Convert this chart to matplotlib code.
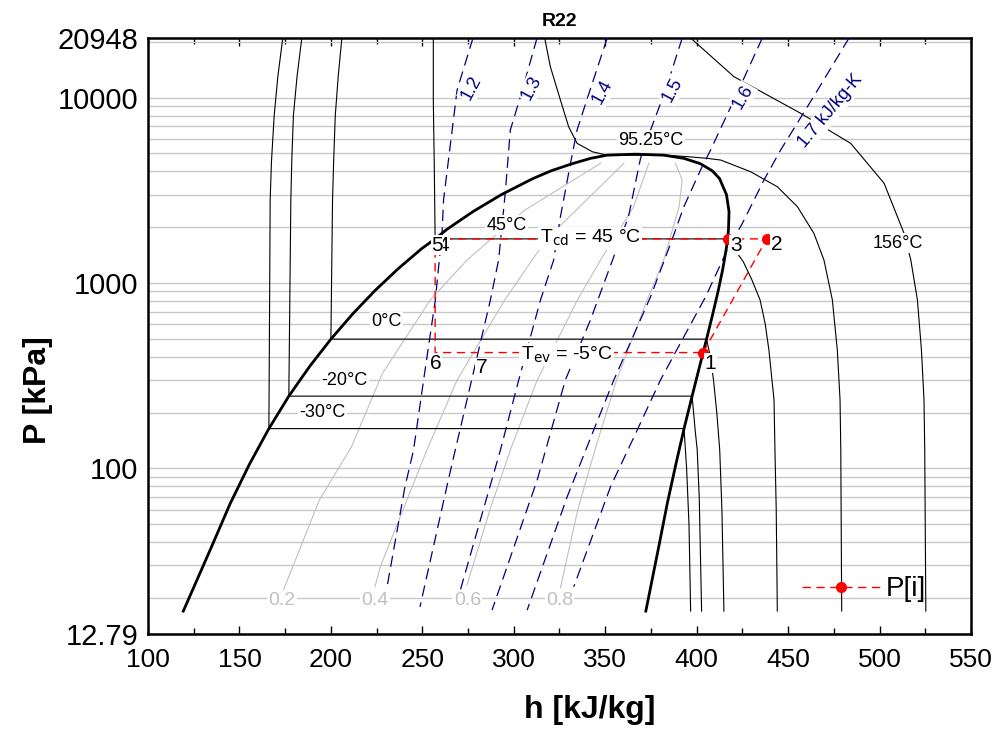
import numpy as np
import matplotlib
matplotlib.use('Agg')
import matplotlib.pyplot as plt

plt.rcParams['font.family'] = ['Liberation Sans', 'DejaVu Sans']

# saturation dome of R22 (P in kPa, h in kJ/kg)
sat_P = [17.0, 37.5, 64.5, 105.0, 163.9, 245.3, 354.9, 497.9, 680.7, 909.9, 1191.9,
         1533.6, 1729, 1942.3, 2426.6, 2995.0, 3658.6, 4030, 4400, 4700, 4890, 4950]
sat_hf = [119.3, 134.6, 144.9, 155.4, 166.1, 177.0, 188.4, 200.0, 211.9, 224.1, 236.7,
          249.7, 257.0, 263.3, 277.7, 293.2, 310.5, 320.5, 332.0, 342.0, 351.0, 366.5]
sat_hg = [372.2, 379.2, 383.9, 388.6, 393.1, 397.5, 401.6, 405.4, 408.8, 411.8, 414.3,
          416.2, 416.9, 417.4, 417.7, 416.3, 412.5, 408.5, 402.0, 393.0, 382.0, 366.5]

# isotherms
t_m30_h = [173.7, 171.0, 169.0, 167.5, 166.8, 166.1, 393.1, 394.5, 395.8, 396.7]
t_m30_P = [20948, 13000, 8000, 4500, 2801, 163.9, 163.9, 100, 50, 17]
t_m20_h = [184.1, 181.5, 179.5, 178.6, 178.1, 177.0, 397.5, 399.2, 400.3, 401.4, 402.7]
t_m20_P = [20948, 13000, 8000, 4500, 2801, 245.3, 245.3, 160, 125.6, 70, 17]
t_0_h = [206.0, 204.0, 202.4, 201.5, 200.9, 200.0, 405.4, 407.5, 409.2, 411.0, 412.6, 413.8, 414.9]
t_0_P = [20948, 13000, 8000, 4500, 2801, 497.9, 497.9, 400, 300, 200, 126, 60, 17]
t_45_h = [256.0, 256.0, 256.5, 257.0, 416.9, 420.0, 425.5, 430.0, 434.7, 437.5, 439.5,
          442.3, 442.8, 443.5, 444.1]
t_45_P = [20948, 9700, 4500, 1729, 1729, 1550, 1302, 1050, 809, 600, 435, 234, 126, 60, 17]
t_95_h = [316.9, 320.0, 325.5, 330.0, 334.6, 343.0, 351.0, 383.0, 395.0, 405.8, 413.1,
          429.5, 444.1, 455.1, 464.1, 469.6, 474.2, 476.9, 478.4, 478.8, 479.3]
t_95_P = [20948, 14669, 9698, 6962, 5664, 5100, 4890, 4890, 4800, 4701, 4603, 3981,
          3304, 2578, 1852, 1329, 809, 435, 234, 126, 17]
t_156_h = [396.7, 420.4, 456.9, 484.2, 502.5, 513.4, 517.1, 520.7, 522.9, 524.3, 524.7, 525.3]
t_156_P = [20948, 12955, 8220, 5664, 3447, 1852, 1329, 809, 435, 234, 126, 17]

# isentropes [kJ/kg-K]
s12_h = [277.7, 269.0, 261.6, 260.8, 257.1, 251.1, 245.2, 240.5, 230.4]
s12_P = [20948, 10980, 2801, 1882, 809, 319, 125.6, 79.6, 22.1]
s13_h = [312.7, 303.6, 298.1, 295.4, 291.7, 287.2, 277.6, 268.0, 264.2, 248.7]
s13_P = [20948, 10067, 6682, 3105, 1329, 809, 319, 125.6, 86.5, 17.9]
s14_h = [351.1, 341.7, 334.6, 331.0, 325.5, 321.8, 314.6, 302.7, 292.7, 281.7, 270.8]
s14_P = [20948, 10980, 6682, 4418, 2276, 1329, 809, 299.5, 125.6, 52.6, 22.1]
s15_h = [392.1, 383.0, 374.8, 369.3, 362.7, 354.0, 341.9, 328.2, 312.8, 288.1]
s15_P = [20948, 10980, 6682, 4701, 2276, 1329, 631, 299.5, 86.5, 17.2]
s16_h = [435.9, 420.4, 407.6, 402.1, 393.0, 385.8, 374.8, 354.7, 343.7, 329.2, 307.3]
s16_P = [20948, 9698, 5212, 4066, 2578, 1636, 843, 299.5, 161, 70.3, 17.2]
s17_h = [483.3, 464.5, 445.9, 436.8, 425.0, 416.7, 404.9, 393.0, 380.2, 367.5, 352.9, 332.8]
s17_P = [20948, 10320, 5212, 3592, 2097, 1505, 843, 513, 299.5, 161, 79.6, 23.0]

# quality lines
x02_h = [347.4, 305.7, 274.4, 254.3, 228.1, 211.3, 193.7, 173.9]
x02_P = [4418, 2460, 1329, 809, 324, 131, 67.5, 21.9]
x04_h = [360.2, 318.0, 295.0, 269.0, 252.5, 227.0, 224.1]
x04_P = [4418, 1729, 809, 299.5, 125.6, 29.5, 23.0]
x06_h = [373.8, 365.5, 347.4, 334.8, 312.8, 298.8, 287.0, 274.4]
x06_P = [4418, 2578, 1329, 809, 299.5, 131, 60, 23.5]
x08_h = [388.4, 392.1, 390.4, 382.0, 372.9, 356.2, 344.9, 335.0, 325.5]
x08_P = [4418, 3592, 2578, 1329, 809, 299.5, 131, 60, 22.7]

# refrigeration cycle states 1..7
cyc_h = [403.5, 438.3, 416.9, 257.0, 257.0, 257.0, 278.0]
cyc_P = [421.4, 1729, 1729, 1729, 1729, 421.4, 421.4]

fig = plt.figure(figsize=(10, 7.31), dpi=100)
ax = fig.add_axes([0.148, 0.1327, 0.823, 0.8153])
ax.set_yscale('log')
ax.set_xlim(100, 550)
ax.set_ylim(12.79, 20948)

# grid lines
minor = [m * 10 ** k for k in range(1, 5) for m in range(1, 10) if 12.79 < m * 10 ** k < 20948]
ax.set_yticks(minor, minor=True)
ax.set_yticks([12.79, 100, 1000, 10000, 20948])
ax.set_yticklabels(['12.79', '100', '1000', '10000', '20948'])
ax.yaxis.set_minor_formatter(matplotlib.ticker.NullFormatter())
ax.yaxis.grid(True, which='both', color='#c8c8c8', lw=1.0, zorder=0)
ax.tick_params(axis='y', which='both', length=0, labelsize=21, pad=7)
ax.set_xticks(np.arange(100, 551, 50))
ax.set_xticks(np.arange(100, 551, 25), minor=True)
ax.tick_params(axis='x', which='both', direction='in', top=True, labelsize=19, pad=10)
ax.tick_params(axis='x', which='major', length=6, width=1)
ax.tick_params(axis='x', which='minor', length=4, width=1)
for sp in ax.spines.values():
    sp.set_linewidth(1.8)

gray = '#c0c0c0'
for hh, pp in [(x02_h, x02_P), (x04_h, x04_P), (x06_h, x06_P), (x08_h, x08_P)]:
    ax.plot(hh, pp, color=gray, lw=0.8, zorder=2)

for hh, pp in [(t_m30_h, t_m30_P), (t_m20_h, t_m20_P), (t_0_h, t_0_P),
               (t_45_h, t_45_P), (t_95_h, t_95_P), (t_156_h, t_156_P)]:
    ax.plot(hh, pp, color='black', lw=0.8, zorder=3)

for hh, pp in [(s12_h, s12_P), (s13_h, s13_P), (s14_h, s14_P),
               (s15_h, s15_P), (s16_h, s16_P), (s17_h, s17_P)]:
    ax.plot(hh, pp, color='#000080', lw=0.9, dashes=(9, 5), zorder=3)

ax.plot(sat_hf + sat_hg[::-1], sat_P + sat_P[::-1], color='black', lw=2.0, zorder=4)

ax.plot(cyc_h + cyc_h[:1], cyc_P + cyc_P[:1], color='red', lw=1.0, dashes=(6, 4),
        marker='o', ms=7, markevery=[0, 1, 2], zorder=5, label='P[i]')

wb = dict(facecolor='white', edgecolor='none', pad=1.0)

def lab(h, p, s, size=13, color='black', rot=0, z=6):
    ax.text(h, p, s, fontsize=size, color=color, rotation=rot, ha='center', va='center',
            rotation_mode='anchor', bbox=wb, zorder=z)

lab(374.8, 5898, '95.25°C')
lab(510.0, 1642, '156°C')
lab(296.0, 2054, '45°C')
lab(230.3, 616, '0°C')
lab(207.3, 299.5, '-20°C')
lab(195.2, 201, '-30°C')
lab(341.9, 1747, r'T$_{\rm cd}$ = 45 °C', size=14)
lab(328.8, 409, r'T$_{\rm ev}$ = -5°C', size=14)

for h, p, s in [(173.3, 19.5, '0.2'), (224.2, 19.5, '0.4'), (274.6, 19.5, '0.6'), (325.0, 19.5, '0.8')]:
    lab(h, p, s, size=14, color=gray)

navy = '#000080'
for h, p, s, r in [(276.8, 11256, '1.2', 62), (309.6, 11256, '1.3', 62), (348.5, 10710, '1.4', 62),
                   (386.8, 10980, '1.5', 62), (425.1, 10067, '1.6', 60)]:
    lab(h, p, s, size=13, color=navy, rot=r)
lab(473.3, 8461, '1.7 kJ/kg-K', size=13, color=navy, rot=50)

nb = dict(facecolor='white', edgecolor='none', pad=0.3)
for h, p, s in [(407.6, 370, '1'), (443.7, 1622, '2'), (421.3, 1600, '3'),
                (261.5, 1600, '4'), (258.0, 1600, '5'), (257.1, 370, '6'), (282.3, 348, '7')]:
    ax.text(h, p, s, fontsize=15, ha='center', va='center', bbox=nb, zorder=7)

ax.legend(loc='center left', bbox_to_anchor=(0.795, 0.075), frameon=False, fontsize=20,
          handlelength=2.8, handletextpad=0.2, borderpad=0, borderaxespad=0)

ax.set_title('R22', fontsize=14, fontweight='bold', pad=9)
ax.set_xlabel('h [kJ/kg]', fontsize=23, fontweight='bold')
ax.set_ylabel('P [kPa]', fontsize=23, fontweight='bold')
ax.xaxis.set_label_coords(0.537, -0.128)
ax.xaxis.label.set_va('center')
ax.yaxis.set_label_coords(-0.134, 0.409)
ax.yaxis.label.set_va('center')

fig.savefig('out.png', dpi=100)
